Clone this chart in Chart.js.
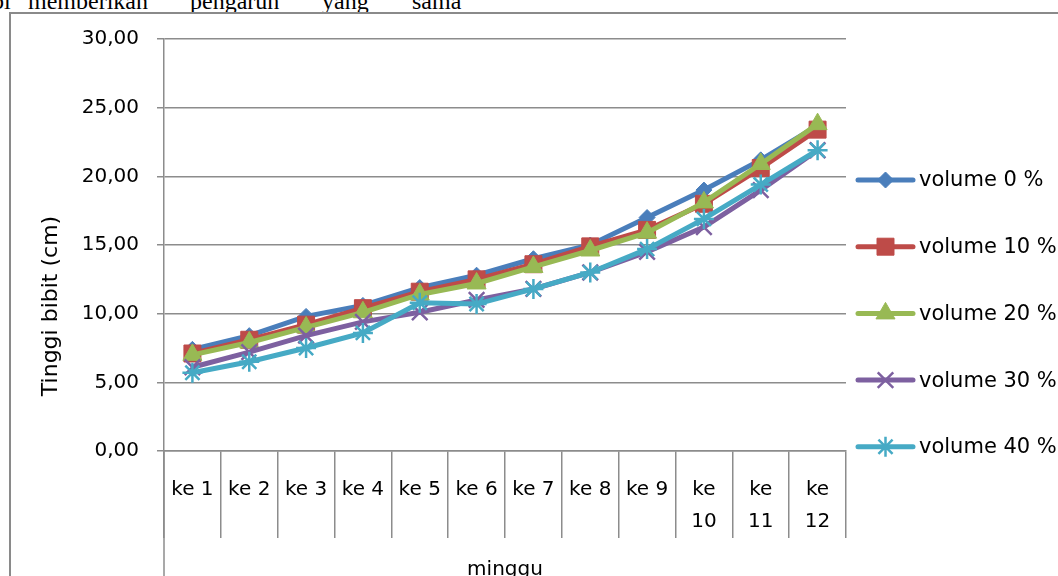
<!DOCTYPE html>
<html>
<head>
<meta charset="utf-8">
<script src="https://cdn.jsdelivr.net/npm/chart.js@4.4.1/dist/chart.umd.min.js"></script>
<style>
  html, body { margin: 0; padding: 0; background: #fff; overflow: hidden; }
  #wrap { position: relative; width: 1058px; height: 576px; overflow: hidden; background: #fff; }
  #para { position: absolute; top: -11px; left: 0; width: 1058px; height: 26px;
          font-family: "Liberation Serif", "Times New Roman", serif; font-size: 24px;
          line-height: 24px; color: #000; white-space: nowrap; }
  #para span { position: absolute; top: 0; }
  #frame { position: absolute; left: 9px; top: 12px; width: 2000px; height: 2000px;
           border: 2px solid #8a8a8a; box-sizing: border-box; }
  canvas { position: absolute; left: 0; top: 0; }
</style>
</head>
<body>
<div id="wrap">
  <div id="para"><span style="left:-8px">bi</span><span style="left:28px">memberikan</span><span style="left:190px">pengaruh</span><span style="left:322px">yang</span><span style="left:412px">sama</span></div>
  <div id="frame"></div>
  <canvas id="chart" width="1058" height="576"></canvas>
</div>
<script>
// Weekly seedling height (cm) for each media volume treatment
const weeks = ['ke 1', 'ke 2', 'ke 3', 'ke 4', 'ke 5', 'ke 6', 'ke 7', 'ke 8', 'ke 9', 'ke 10', 'ke 11', 'ke 12'];
const seriesNames = ['volume 0 %', 'volume 10 %', 'volume 20 %', 'volume 30 %', 'volume 40 %'];

const volume0  = [7.4, 8.4, 9.8, 10.6, 11.9, 12.8, 14.0, 15.0, 17.0, 19.0, 21.2, 23.7];
const volume10 = [7.1, 8.1, 9.2, 10.4, 11.6, 12.5, 13.6, 14.9, 16.1, 18.0, 20.6, 23.4];
const volume20 = [7.0, 7.9, 9.0, 10.1, 11.4, 12.2, 13.4, 14.6, 15.9, 18.1, 20.9, 23.8];
const volume30 = [6.1, 7.2, 8.4, 9.4, 10.1, 11.0, 11.8, 13.0, 14.5, 16.3, 19.0, 21.9];
const volume40 = [5.7, 6.5, 7.5, 8.6, 10.8, 10.7, 11.8, 13.0, 14.7, 16.9, 19.4, 21.9];

const yTickLabels = ['0,00', '5,00', '10,00', '15,00', '20,00', '25,00', '30,00'];
const yTitle = 'Tinggi bibit (cm)';
const xTitle = 'minggu';

const seriesValues = [volume0, volume10, volume20, volume30, volume40];

// Line / marker look for each series
const seriesStyles = [
  { color: '#4A7EBB', marker: 'rectRot',  radius: 8,  markerWidth: 1 },
  { color: '#BE4B48', marker: 'rect',     radius: 12, markerWidth: 1 },
  { color: '#98B954', marker: 'triangle', radius: 11, markerWidth: 1 },
  { color: '#7D60A0', marker: 'crossRot', radius: 11, markerWidth: 2.5 },
  { color: '#46AAC5', marker: 'star',     radius: 10, markerWidth: 2.5 }
];

const FONT = '"DejaVu Sans", "Noto Sans", sans-serif';
const GRID = '#8c8c8c';

const datasets = seriesValues.map((vals, i) => {
  const s = seriesStyles[i];
  return {
    label: seriesNames[i],
    data: vals,
    borderColor: s.color,
    backgroundColor: s.color,
    borderWidth: 5,
    pointStyle: s.marker,
    pointRadius: s.radius,
    pointBorderWidth: s.markerWidth,
    pointBorderColor: s.color,
    pointBackgroundColor: s.color,
    tension: 0,
    // later series are painted over earlier ones
    order: seriesValues.length - 1 - i
  };
});

// wrap a category label onto two lines when it is too wide for its slot
function wrapLabel(text) {
  return text.length > 4 ? text.split(' ') : text;
}

function drawMarker(ctx, style, x, y) {
  ctx.save();
  ctx.fillStyle = style.color;
  ctx.strokeStyle = style.color;
  ctx.lineWidth = style.markerWidth;
  if (Chart.helpers && Chart.helpers.drawPoint) {
    Chart.helpers.drawPoint(ctx, { pointStyle: style.marker, rotation: 0, radius: style.radius, borderWidth: style.markerWidth }, x, y);
  }
  ctx.restore();
}

// legend on the right: line sample with marker, followed by the series name
const sideLegend = {
  id: 'sideLegend',
  afterDraw(chart) {
    const ctx = chart.ctx;
    const x0 = 858, x1 = 913, tx = 919;
    chart.data.datasets.forEach((ds, i) => {
      const y = 180 + i * 66.7;
      const s = seriesStyles[i];
      ctx.save();
      ctx.strokeStyle = s.color;
      ctx.lineWidth = 5;
      ctx.lineCap = 'round';
      ctx.beginPath();
      ctx.moveTo(x0, y);
      ctx.lineTo(x1, y);
      ctx.stroke();
      ctx.restore();
      drawMarker(ctx, s, (x0 + x1) / 2, y);
      ctx.save();
      ctx.fillStyle = '#000';
      ctx.font = '21px ' + FONT;
      ctx.textBaseline = 'middle';
      ctx.textAlign = 'left';
      ctx.fillText(ds.label, tx, y + 1);
      ctx.restore();
    });
  }
};

// axis titles and the outer bracket line of the category axis
const axisExtras = {
  id: 'axisExtras',
  afterDraw(chart) {
    const ctx = chart.ctx;
    const area = chart.chartArea;
    ctx.save();
    ctx.strokeStyle = GRID;
    ctx.lineWidth = 1.5;
    ctx.beginPath();
    ctx.moveTo(area.left, area.bottom);
    ctx.lineTo(area.left, chart.height);
    ctx.stroke();

    ctx.fillStyle = '#000';
    ctx.font = '20px ' + FONT;
    ctx.textAlign = 'center';
    ctx.textBaseline = 'alphabetic';
    ctx.fillText(xTitle, (area.left + area.right) / 2, 575);

    ctx.translate(51, 306);
    ctx.rotate(-Math.PI / 2);
    ctx.font = '22px ' + FONT;
    ctx.textBaseline = 'middle';
    ctx.fillText(yTitle, 0, 0);
    ctx.restore();
  }
};

new Chart(document.getElementById('chart'), {
  type: 'line',
  data: { labels: weeks, datasets },
  options: {
    responsive: false,
    animation: false,
    devicePixelRatio: 1,
    layout: { padding: { left: 0, right: 212, top: 39, bottom: 0 } },
    plugins: { legend: { display: false }, tooltip: { enabled: false } },
    scales: {
      x: {
        type: 'category',
        offset: true,
        afterFit(scale) { scale.height = 125; },
        grid: { offset: true, drawOnChartArea: false, drawTicks: true, tickLength: 87, color: GRID, lineWidth: 1.5 },
        border: { display: true, color: GRID, width: 1.5 },
        ticks: {
          autoSkip: false, maxRotation: 0, minRotation: 0, padding: -64,
          color: '#000', font: { family: FONT, size: 20, lineHeight: 1.6 },
          callback: (value, index) => wrapLabel(weeks[index])
        }
      },
      y: {
        min: 0, max: 30,
        afterFit(scale) { scale.width = 164; },
        grid: { drawTicks: true, tickLength: 7, color: GRID, lineWidth: 1.5 },
        border: { display: true, color: GRID, width: 1.5 },
        ticks: {
          stepSize: 5, padding: 18, color: '#000',
          font: { family: FONT, size: 20 },
          callback: (value, index) => yTickLabels[index]
        }
      }
    }
  },
  plugins: [sideLegend, axisExtras]
});
</script>
</body>
</html>
